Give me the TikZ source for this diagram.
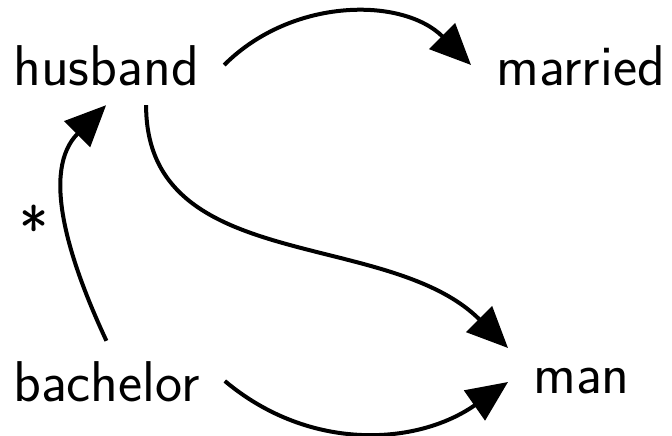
\documentclass[tikz,border=0pt]{standalone}
\usepackage{fontspec}
\newfontfamily\wordfont[Extension=.otf]{lmsans17-regular}
\usetikzlibrary{arrows.meta}
\begin{document}
\begin{tikzpicture}[x=1pt, y=-1pt,
    word/.style={font=\wordfont\fontsize{57.5}{60}\selectfont,
                 inner xsep=25pt, inner ysep=20pt,
                 text height=40pt, text depth=0pt, anchor=base west},
    link/.style={line width=4pt, -{Triangle[length=41pt, width=36pt]}}]
  \useasboundingbox (0,0) rectangle (672,436);

  \node[word] (husband)  at (-12,85)  {husband};
  \node[word] (married)  at (471,85)  {married};
  \node[word] (bachelor) at (-12,401) {bachelor};
  \node[word] (man)      at (508,393) {man};

  \draw[link] (husband.east) to[out=45, in=135] (married.west);
  \draw[link] ([xshift=40pt]husband.south)
      to[out=-90, in=135] ([yshift=25pt]man.west);
  \draw[link] (bachelor.north)
      to[out=115, in=-135]
      node[pos=0.5, left=13pt, yshift=-12pt, font=\wordfont\fontsize{62}{64}\selectfont] (star) {*}
      (husband.south);
  \draw[link] (bachelor.east) to[out=-40, in=-145] ([yshift=-9pt]man.west);
\end{tikzpicture}
\end{document}
